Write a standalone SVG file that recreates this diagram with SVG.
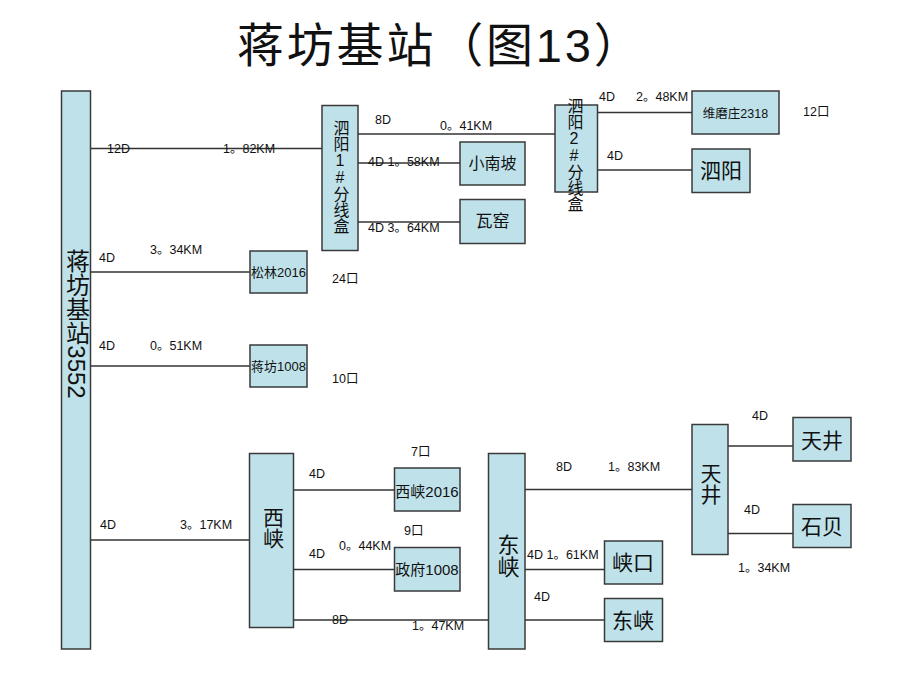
<svg xmlns="http://www.w3.org/2000/svg" width="920" height="690" viewBox="0 0 920 690">
<style>
text{font-family:"Liberation Sans","Noto Sans CJK SC",sans-serif;fill:#111}
.box{fill:#bfe2ea;stroke:#3a3a3a;stroke-width:1.5}
.ln{stroke:#333;stroke-width:1.3;fill:none}
.lb{font-size:12.5px}
.v{writing-mode:vertical-rl;text-orientation:upright;text-anchor:middle}
.vm{writing-mode:vertical-rl;text-orientation:mixed;text-anchor:middle}
.c{text-anchor:middle}
</style>
<rect width="920" height="690" fill="#fff"/>
<text x="237" y="62" style="font-size:47px;letter-spacing:2.8px">蒋坊基站（图13）</text>

<g id="connectors">
<line class="ln" x1="91" y1="148.5" x2="322" y2="148.5"/>
<line class="ln" x1="91" y1="272" x2="250" y2="272"/>
<line class="ln" x1="91" y1="366" x2="250" y2="366"/>
<line class="ln" x1="91" y1="540" x2="249" y2="540"/>
<line class="ln" x1="358" y1="134" x2="555" y2="134"/>
<line class="ln" x1="358" y1="163" x2="460" y2="163"/>
<line class="ln" x1="358" y1="222" x2="460" y2="222"/>
<line class="ln" x1="597" y1="112.5" x2="692" y2="112.5"/>
<line class="ln" x1="590" y1="170" x2="692" y2="170"/>
<line class="ln" x1="287" y1="490" x2="394" y2="490"/>
<line class="ln" x1="293" y1="569.5" x2="394" y2="569.5"/>
<line class="ln" x1="293" y1="620" x2="489" y2="620"/>
<line class="ln" x1="525" y1="489.5" x2="692" y2="489.5"/>
<line class="ln" x1="525" y1="569.5" x2="604" y2="569.5"/>
<line class="ln" x1="525" y1="620" x2="604" y2="620"/>
<line class="ln" x1="728" y1="446" x2="793" y2="446"/>
<line class="ln" x1="728" y1="533.5" x2="793" y2="533.5"/>
</g>

<g id="labels" class="lb">
<text x="107" y="153">12D</text>
<text x="223" y="153">1。82KM</text>
<text x="99" y="262">4D</text>
<text x="150" y="253.5">3。34KM</text>
<text x="99" y="350">4D</text>
<text x="150" y="350">0。51KM</text>
<text x="332" y="282.5">24口</text>
<text x="332" y="383">10口</text>
<text x="375" y="123.5">8D</text>
<text x="440" y="129.5">0。41KM</text>
<text x="368" y="166">4D 1。58KM</text>
<text x="368" y="231.5">4D 3。64KM</text>
<text x="599" y="101">4D</text>
<text x="636" y="101">2。48KM</text>
<text x="607" y="159.5">4D</text>
<text x="803" y="116">12口</text>
<text x="100" y="528.5">4D</text>
<text x="180" y="528.5">3。17KM</text>
<text x="309" y="478">4D</text>
<text x="411" y="456">7口</text>
<text x="309" y="558">4D</text>
<text x="339" y="550">0。44KM</text>
<text x="404" y="535">9口</text>
<text x="332" y="623.5">8D</text>
<text x="412" y="630">1。47KM</text>
<text x="556" y="471">8D</text>
<text x="608" y="471">1。83KM</text>
<text x="527" y="558.5">4D 1。61KM</text>
<text x="534" y="601">4D</text>
<text x="752" y="420">4D</text>
<text x="744" y="514">4D</text>
<text x="738" y="572">1。34KM</text>
</g>

<g id="jiangfang-station">
<rect class="box" x="61.5" y="91" width="29" height="558"/>
<text class="vm" x="76" y="324" style="font-size:24px">蒋坊基站3552</text>
</g>
<g id="siyang1">
<rect class="box" x="322" y="105.5" width="36" height="145"/>
<text class="v" x="340" y="177" style="font-size:16px">泗阳1#分线盒</text>
</g>
<g id="xiaonanpo">
<rect class="box" x="460" y="142" width="65" height="43"/>
<text class="c" x="492.5" y="169" style="font-size:16px">小南坡</text>
</g>
<g id="wayao">
<rect class="box" x="460" y="199.5" width="65" height="44"/>
<text class="c" x="492.5" y="227" style="font-size:17px">瓦窑</text>
</g>
<g id="siyang2">
<rect class="box" x="555" y="105" width="42.5" height="87"/>
<text class="v" x="574" y="155" style="font-size:16px">泗阳2#分线盒</text>
</g>
<g id="weimozhuang">
<rect class="box" x="692" y="91" width="87" height="43"/>
<text class="c" x="735.5" y="117.5" style="font-size:12.5px">维磨庄2318</text>
</g>
<g id="siyang">
<rect class="box" x="692" y="149" width="58" height="43.5"/>
<text class="c" x="721" y="177.5" style="font-size:21px">泗阳</text>
</g>
<g id="songlin">
<rect class="box" x="250" y="251" width="57" height="42"/>
<text class="c" x="278.5" y="276.5" style="font-size:13px">松林2016</text>
</g>
<g id="jiangfang1008">
<rect class="box" x="250" y="345" width="57" height="42"/>
<text class="c" x="278.5" y="370.5" style="font-size:13px">蒋坊1008</text>
</g>
<g id="xixia-junction">
<rect class="box" x="249.5" y="453.5" width="44" height="174"/>
<text class="v" x="272" y="528" style="font-size:21px">西峡</text>
</g>
<g id="xixia2016">
<rect class="box" x="394.5" y="468" width="65.5" height="43"/>
<text class="c" x="427" y="496.5" style="font-size:15px">西峡2016</text>
</g>
<g id="zhengfu1008">
<rect class="box" x="394.5" y="547.5" width="65.5" height="43.5"/>
<text class="c" x="427" y="575" style="font-size:15px">政府1008</text>
</g>
<g id="dongxia-junction">
<rect class="box" x="488.5" y="453.5" width="36.5" height="195.5"/>
<text class="v" x="506" y="556" style="font-size:22px">东峡</text>
</g>
<g id="tianjing-junction">
<rect class="box" x="692" y="424.5" width="36" height="130"/>
<text class="v" x="709.5" y="484" style="font-size:21px">天井</text>
</g>
<g id="tianjing">
<rect class="box" x="793" y="417.5" width="58" height="43.5"/>
<text class="c" x="822" y="447.5" style="font-size:21px">天井</text>
</g>
<g id="shibei">
<rect class="box" x="793" y="504.5" width="58" height="43"/>
<text class="c" x="822" y="533.5" style="font-size:21px">石贝</text>
</g>
<g id="xiakou">
<rect class="box" x="604.5" y="541" width="58" height="43"/>
<text class="c" x="633" y="569.5" style="font-size:21px">峡口</text>
</g>
<g id="dongxia">
<rect class="box" x="604.5" y="598.5" width="58" height="43"/>
<text class="c" x="633" y="627.5" style="font-size:21px">东峡</text>
</g>
</svg>
